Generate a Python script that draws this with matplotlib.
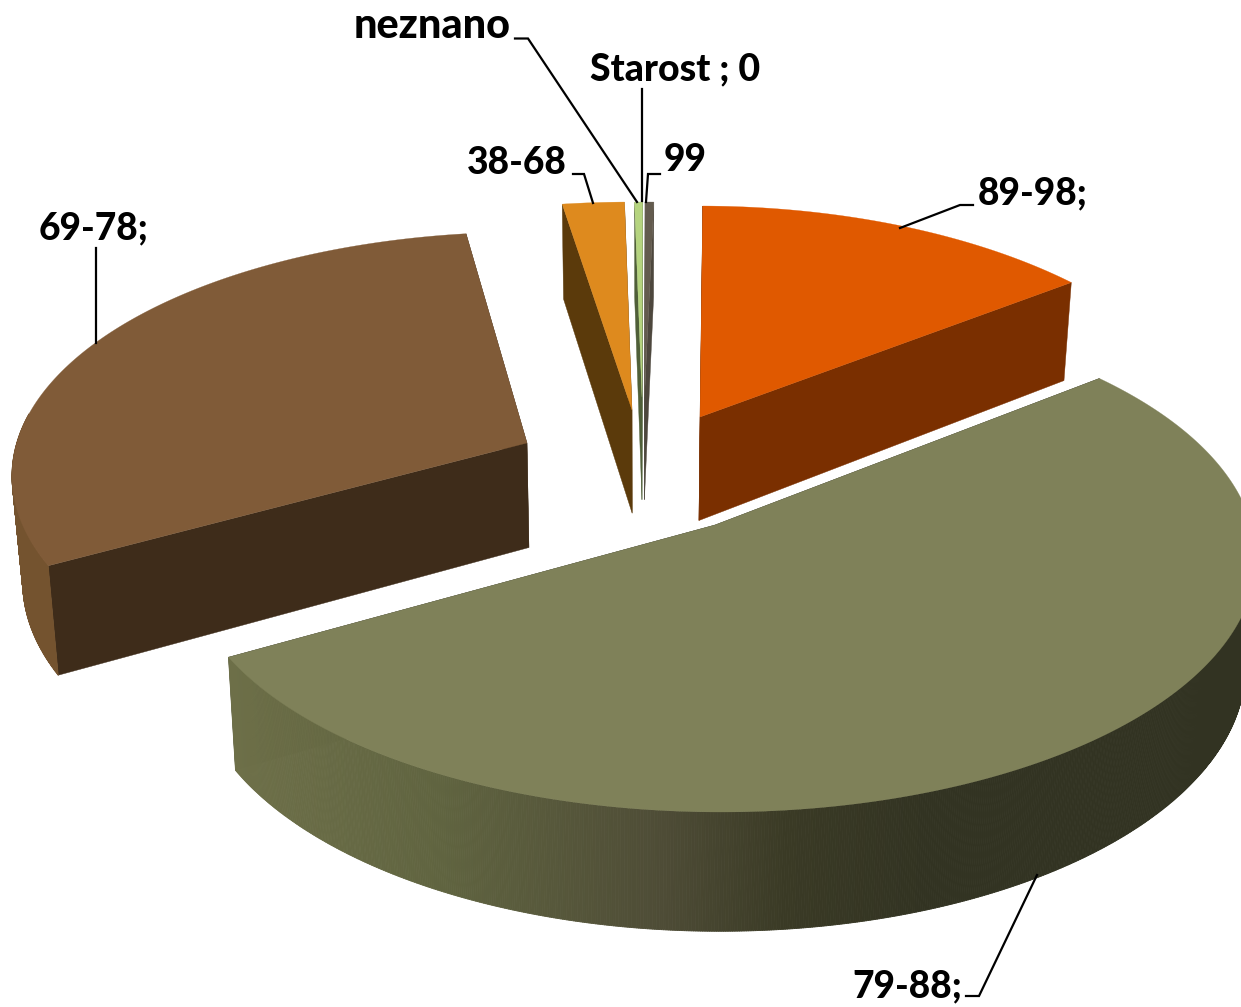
import numpy as np
import matplotlib
matplotlib.use("Agg")
import matplotlib.pyplot as plt
from matplotlib.collections import PolyCollection
from matplotlib.colors import LinearSegmentedColormap

# data (share of the whole, %)
categories = ["89-98", "79-88", "69-78", "38-68", "neznano", "Starost", "99"]
values = [12.42, 56.11, 29.11, 1.86, 0.24, 0.0, 0.26]
label_texts = ["89-98;", "79-88;", "69-78;", "38-68", "neznano", "Starost ; 0", "99"]

# style / layout
top_colors = ["#E05900", "#7F8159", "#805B38", "#DE8A1E", "#B5D47F", "#808080", "#635B4E"]
face_colors = ["#7A2F00", "#323322", "#3E2C1A", "#5B3A0B", "#4F5F38", "#808080", "#4D473D"]
apex_x = [700, 715, 527, 632, 642, 642, 644.5]
apex_y = [417, 525, 443, 410, 397, 397, 397]
radius_x = [525, 535, 515, 535, 535, 535, 535]
radius_y = [261, 254, 244, 245, 241, 241, 241]
offset_x = [0, 6, 0, 0, 0, 0, 0]
offset_y = [50, 33, 33, 37, 46, 46, 46]
shift_deg = [0, 0, 1.4, 0.7, 0.7, 0.7, 0.7]
start_deg = 0.3

plt.rcParams["font.family"] = ["Lato", "DejaVu Sans"]
fig = plt.figure(figsize=(12.41, 10.07), dpi=100)
ax = fig.add_axes([0, 0, 1, 1])
ax.set_xlim(0, 1241)
ax.set_ylim(1007, 0)
ax.axis("off")


def lower(x, y):
    """Where the bottom of the disc lies under a point of its top."""
    return 640 + (x - 640) * 0.983, y + 95 + (y - 205) * 0.04


rim_cmap = LinearSegmentedColormap.from_list(
    "rim", [(0, "#6E7049"), (0.3, "#606440"), (0.62, "#4E4C36"), (0.8, "#3A3A25"), (1, "#323322")]
)

edges = start_deg + np.concatenate([[0], np.cumsum(values)]) * 3.6
for i in range(len(values)):
    if values[i] == 0:
        continue
    t0 = edges[i] + shift_deg[i]
    t1 = edges[i + 1] + shift_deg[i]
    t = np.radians(np.linspace(t0, t1, max(int((t1 - t0) * 4), 8)))
    px = apex_x[i] + offset_x[i] + radius_x[i] * np.sin(t)
    py = apex_y[i] + offset_y[i] - radius_y[i] * np.cos(t)
    qx, qy = lower(px, py)
    ax_, ay_ = lower(apex_x[i], apex_y[i])
    # cut faces
    for ex, ey, fx, fy in ((px[0], py[0], qx[0], qy[0]), (px[-1], py[-1], qx[-1], qy[-1])):
        ax.fill([apex_x[i], ex, fx, ax_], [apex_y[i], ey, fy, ay_],
                color=face_colors[i], lw=0.3, zorder=2 + i * 0.01)
    # outer rim (front part only)
    deg = np.degrees(t)
    vis = np.where((deg >= 90) & (deg <= 285))[0]
    if len(vis) > 1:
        quads, cols = [], []
        for a, b in zip(vis[:-1], vis[1:]):
            quads.append([(px[a], py[a]), (px[b], py[b]), (qx[b], qy[b]), (qx[a], qy[a])])
            if categories[i] == "79-88":
                cols.append(rim_cmap(np.clip((px[a] - 228) / 702, 0, 1)))
            else:
                cols.append("#74532F")
        ax.add_collection(PolyCollection(quads, facecolors=cols, edgecolors=cols, linewidths=0.6, zorder=3))
    # top
    ax.fill(np.r_[apex_x[i], px], np.r_[apex_y[i], py], color=top_colors[i], lw=0.2, zorder=4)

# leader lines
leaders = {
    "89-98": ([973, 960, 900], [205, 205, 228]),
    "79-88": ([966, 979, 1037], [996, 996, 875]),
    "69-78": ([96, 96], [248, 343]),
    "38-68": ([573, 584, 593], [174, 174, 203]),
    "neznano": ([515, 528, 637], [38.5, 38.5, 202]),
    "Starost": ([641.7, 641.7], [89, 201]),
    "99": ([660, 648, 646], [174, 174, 202]),
}
for xs, ys in leaders.values():
    ax.plot(xs, ys, color="black", lw=1.6, zorder=5, solid_joinstyle="miter")

# labels (left edge, vertical centre)
label_x = [978, 852, 39, 467, 354, 590, 664]
label_y = [193, 986, 228, 163, 26, 69, 160]
label_size = [26.7, 26.7, 26.7, 26.7, 29.8, 27, 26.7]
for s, x, y, fs in zip(label_texts, label_x, label_y, label_size):
    ax.text(x, y, s, fontsize=fs, fontweight=900, color="black", ha="left", va="center", zorder=6)

fig.savefig("out.png", dpi=100)
